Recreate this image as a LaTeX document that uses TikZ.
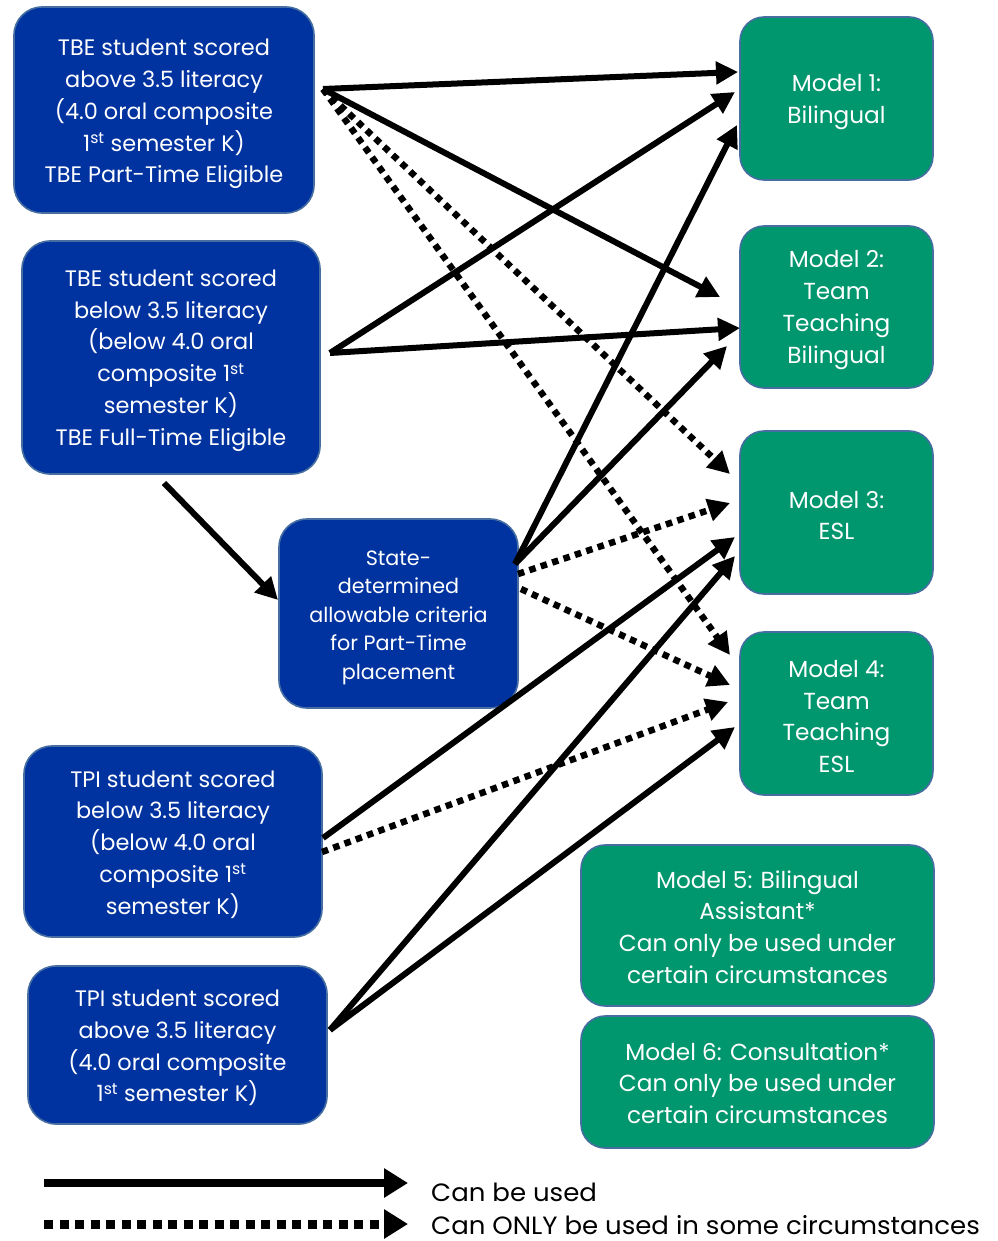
\documentclass[tikz,border=0pt]{standalone}
\usepackage{fontspec}
\setmainfont{Poppins}
\usetikzlibrary{arrows.meta,calc}
\definecolor{tbeblue}{RGB}{0,51,160}
\definecolor{mgreen}{RGB}{0,150,110}
\definecolor{edgegray}{RGB}{70,110,160}
\tikzset{
  bluebox/.style={draw=edgegray, line width=1.6pt, fill=tbeblue, rounded corners=28pt, inner sep=0pt},
  greenbox/.style={draw=edgegray, line width=1.6pt, fill=mgreen, rounded corners=24pt, inner sep=0pt},
  bluetext/.style={text=white, align=center, inner sep=0pt, font=\fontsize{22.4}{31.8}\selectfont},
  smalltext/.style={text=white, align=center, inner sep=0pt, font=\fontsize{20.7}{28.5}\selectfont},
  greentext/.style={text=white, align=center, inner sep=0pt, font=\fontsize{23.2}{31.7}\selectfont},
  solidarrow/.style={line width=6pt, -{Triangle[length=22pt,width=22pt]}},
  dotarrow/.style={line width=6.5pt, dash pattern=on 6.5pt off 5.5pt, -{Triangle[length=22pt,width=22pt]}},
  legendtext/.style={anchor=west, inner sep=0pt, font=\fontsize{25}{30}\selectfont}
}
\newcommand{\sts}{\textsuperscript{st}}
\begin{document}
\begin{tikzpicture}[x=1pt,y=-1pt]
\useasboundingbox (0,0) rectangle (997,1241);
% source boxes
\node[bluebox, minimum width=300pt, minimum height=206pt] (A) at (164,110) {};
\node[bluebox, minimum width=298pt, minimum height=233pt] (B) at (171,357.5) {};
\node[bluebox, minimum width=239pt, minimum height=189pt] (C) at (398.5,613.5) {};
\node[bluebox, minimum width=298pt, minimum height=191pt] (D) at (173,841.5) {};
\node[bluebox, minimum width=299pt, minimum height=158pt] (E) at (177.5,1045) {};
\node[bluetext] (At) at ($(A.center)+(0,4)$)
  {TBE student scored\\above 3.5 literacy\\(4.0 oral composite\\1\sts{} semester K)\\TBE Part-Time Eligible};
\node[bluetext] (Bt) at ($(B.center)+(0,3)$)
  {TBE student scored\\below 3.5 literacy\\(below 4.0 oral\\composite 1\sts\\semester K)\\TBE Full-Time Eligible};
\node[smalltext] (Ct) at ($(C.center)+(0,4)$)
  {State-\\determined\\allowable criteria\\for Part-Time\\placement};
\node[bluetext] (Dt) at ($(D.center)+(0,3)$)
  {TPI student scored\\below 3.5 literacy\\(below 4.0 oral\\composite 1\sts\\semester K)};
\node[bluetext] (Et) at ($(E.center)+(0,3)$)
  {TPI student scored\\above 3.5 literacy\\(4.0 oral composite\\1\sts{} semester K)};
% model boxes
\node[greenbox, minimum width=193pt, minimum height=163pt] (M1) at (836.5,98.5) {};
\node[greenbox, minimum width=193pt, minimum height=162pt] (M2) at (836.5,307) {};
\node[greenbox, minimum width=193pt, minimum height=163pt] (M3) at (836.5,512.5) {};
\node[greenbox, minimum width=193pt, minimum height=163pt] (M4) at (836.5,713.5) {};
\node[greenbox, minimum width=353pt, minimum height=161pt] (M5) at (757.5,925.5) {};
\node[greenbox, minimum width=353pt, minimum height=132pt] (M6) at (757.5,1082) {};
\node[greentext] (M1t) at ($(M1.center)+(0,3.5)$) {Model 1:\\Bilingual};
\node[greentext] (M2t) at ($(M2.center)+(0,3)$) {Model 2:\\Team\\Teaching\\Bilingual};
\node[greentext] (M3t) at ($(M3.center)+(0,3)$) {Model 3:\\ESL};
\node[greentext] (M4t) at ($(M4.center)+(0,3)$) {Model 4:\\Team\\Teaching\\ESL};
\node[greentext] (M5t) at ($(M5.center)+(0,1.5)$)
  {Model 5: Bilingual\\Assistant*\\Can only be used under\\certain circumstances};
\node[greentext] (M6t) at ($(M6.center)+(0,1)$)
  {Model 6: Consultation*\\Can only be used under\\certain circumstances};
% connector end points
\coordinate (Aout) at (323,89);
\coordinate (Bout) at (330,353);
\coordinate (Bbot) at (164,483);
\coordinate (Cin) at (278,600);
\coordinate (Cout) at (515,564);
\coordinate (Cout2) at (518,574);
\coordinate (Cout3) at (521,589);
\coordinate (Dout) at (323,838);
\coordinate (Dout2) at (322,852);
\coordinate (Eout) at (330,1030);
\coordinate (M1a) at (738,72);
\coordinate (M1b) at (735,92);
\coordinate (M1c) at (737,125);
\coordinate (M2a) at (720,297);
\coordinate (M2b) at (740,328);
\coordinate (M2c) at (727,346);
\coordinate (M3a) at (730,474);
\coordinate (M3b) at (730,503);
\coordinate (M3c) at (735,537);
\coordinate (M3d) at (735,556);
\coordinate (M4a) at (730,655);
\coordinate (M4b) at (730,685);
\coordinate (M4c) at (728,702);
\coordinate (M4d) at (735,727);
% connectors
\draw[solidarrow] (Aout) -- (M1a);
\draw[solidarrow] (Aout) -- (M2a);
\draw[dotarrow] (Aout) -- (M3a);
\draw[dotarrow] (Aout) -- (M4a);
\draw[solidarrow] (Bout) -- (M1b);
\draw[solidarrow] (Bout) -- (M2b);
\draw[solidarrow] (Bbot) -- (Cin);
\draw[solidarrow] (Cout) -- (M1c);
\draw[solidarrow] (Cout) -- (M2c);
\draw[dotarrow] (Cout2) -- (M3b);
\draw[dotarrow] (Cout3) -- (M4b);
\draw[solidarrow] (Dout) -- (M3c);
\draw[dotarrow] (Dout2) -- (M4c);
\draw[solidarrow] (Eout) -- (M3d);
\draw[solidarrow] (Eout) -- (M4d);
% legend
\coordinate (L1s) at (44,1183);
\coordinate (L1e) at (408,1183);
\coordinate (L2s) at (44,1224);
\coordinate (L2e) at (408,1224);
\draw[line width=8pt, -{Triangle[length=24pt,width=28pt]}] (L1s) -- (L1e);
\draw[line width=9pt, dash pattern=on 9pt off 6.5pt, -{Triangle[length=24pt,width=28pt]}] (L2s) -- (L2e);
\node[legendtext, xscale=1.04] (T1) at (431,1192) {Can be used};
\node[legendtext, xscale=1.04] (T2) at (431,1225) {Can ONLY be used in some circumstances};
\end{tikzpicture}
\end{document}
